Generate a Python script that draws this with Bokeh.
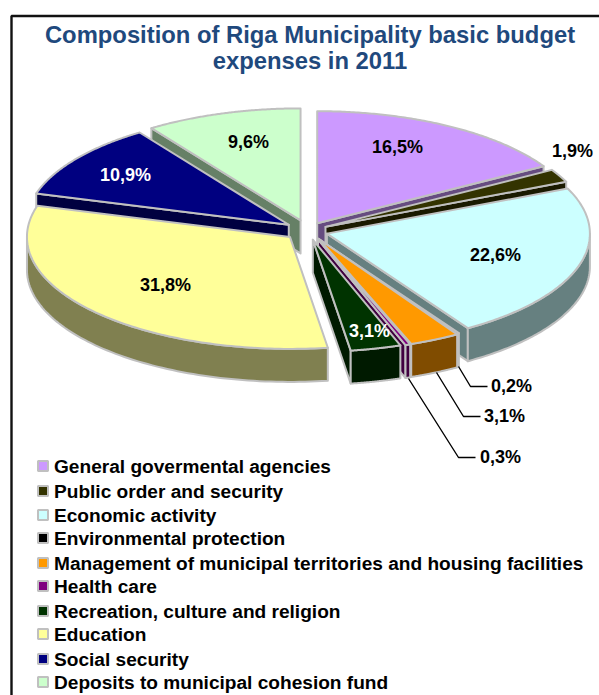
import numpy as np
from bokeh.core.properties import value
from bokeh.embed import file_html
from bokeh.models import Range1d
from bokeh.plotting import figure
from bokeh.resources import INLINE

title_lines = ["Composition of Riga Municipality basic budget", "expenses in 2011"]
categories = ["General govermental agencies", "Public order and security", "Economic activity",
              "Environmental protection", "Management of municipal territories and housing facilities",
              "Health care", "Recreation, culture and religion", "Education", "Social security",
              "Deposits to municipal cohesion fund"]
values = [16.5, 1.9, 22.6, 0.2, 3.1, 0.3, 3.1, 31.8, 10.9, 9.6]
colors = ["#CC99FF", "#333300", "#CCFFFF", "#000000", "#FF9900", "#800080", "#003300", "#FFFF99", "#000080", "#CCFFCC"]
walls = ["#664C80", "#1A1A00", "#668080", "#000000", "#804C00", "#400040", "#001A00", "#808050", "#000040", "#668066"]
value_labels = ["16,5%", "1,9%", "22,6%", "0,2%", "3,1%", "0,3%", "3,1%", "31,8%", "10,9%", "9,6%"]

W, H = 599, 695
CX, CY, RX, RY, DEPTH, EX, EY = 306.3, 230.5, 263, 112, 33, 21, 9
# small hand adjustment of each slice's explosion, in pixels
nudge_x = [0, 0, 0, 0, 3, 4, 1, -1, -1, 0]
nudge_y = [0, 0, 0, 0, 0, 0, 0, 0, -1, -2]
EDGE = "#C0C0C0"
FONT = value("Liberation Sans")

p = figure(width=W, height=H, toolbar_location=None, output_backend="svg",
           x_range=Range1d(0, W), y_range=Range1d(H, 0), min_border=0)
p.axis.visible = False
p.grid.visible = False
p.outline_line_color = None

p.line([599, 11, 11], [15.5, 15.5, 695], line_color="#111111", line_width=2.4)

edges = np.cumsum([0] + values) / sum(values) * 2 * np.pi


def rim(ax, ay, t):
    return ax + RX * np.sin(t), ay - RY * np.cos(t)


def face(xs, ys, fill):
    p.patch(xs, ys, fill_color=fill, line_color=EDGE, line_width=2, line_join="round")


draw_order = [9, 8, 0, 1, 2, 3, 7, 4, 5, 6]
for i in draw_order:
    t0, t1 = edges[i], edges[i + 1]
    mid = (t0 + t1) / 2
    ax = CX + EX * np.sin(mid) + nudge_x[i]
    ay = CY - EY * np.cos(mid) + nudge_y[i]
    for t, visible in ((t0, np.sin(t0) < 0), (t1, np.sin(t1) > 0)):
        if visible:
            x, y = rim(ax, ay, t)
            face([ax, x, x, ax], [ay, y, y + DEPTH, ay + DEPTH], walls[i])
    a, b = max(t0, np.pi / 2), min(t1, 3 * np.pi / 2)
    if b > a:
        ts = np.linspace(a, b, 80)
        x, y = rim(ax, ay, ts)
        face(np.r_[x, x[::-1]], np.r_[y, y[::-1] + DEPTH], walls[i])
    ts = np.linspace(t0, t1, 120)
    x, y = rim(ax, ay, ts)
    face(np.r_[ax, x], np.r_[ay, y], colors[i])

leaders = [([458, 470, 487], [366, 386, 386]),
           ([436, 463, 480], [372, 416, 416]),
           ([408, 458, 475], [378, 457, 457])]
for lx, ly in leaders:
    p.line(lx, ly, line_color="black", line_width=1.4)

label_x = [397, 572, 495, 511, 504, 500, 369, 165, 125, 248]
label_y = [146, 150, 254, 385, 415, 456, 330, 284, 174, 141]
label_colors = ["black", "black", "black", "black", "black", "black", "white", "black", "white", "black"]
for s, x, y, c in zip(value_labels, label_x, label_y, label_colors):
    p.text([x], [y], text=[s], text_font=FONT, text_font_style="bold", text_font_size="18px",
           text_color=c, text_align="center", text_baseline="middle")

for s, y in zip(title_lines, [33.5, 59.5]):
    p.text([309.5], [y], text=[s], text_font=FONT, text_font_style="bold", text_font_size="23.8px",
           text_color="#1F497D", text_align="center", text_baseline="middle")

legend_y = [466, 491, 515, 538, 563, 586, 611, 634, 659, 682]
p.rect([42.5] * 10, [y - 0.5 for y in legend_y], width=10, height=10, fill_color=colors,
       line_color=EDGE, line_width=2)
p.text([53.5] * 10, legend_y, text=categories, text_font=FONT, text_font_style="bold", text_font_size="19.1px",
       text_color="black", text_align="left", text_baseline="middle")

open("out.html", "w").write(file_html(p, INLINE))
